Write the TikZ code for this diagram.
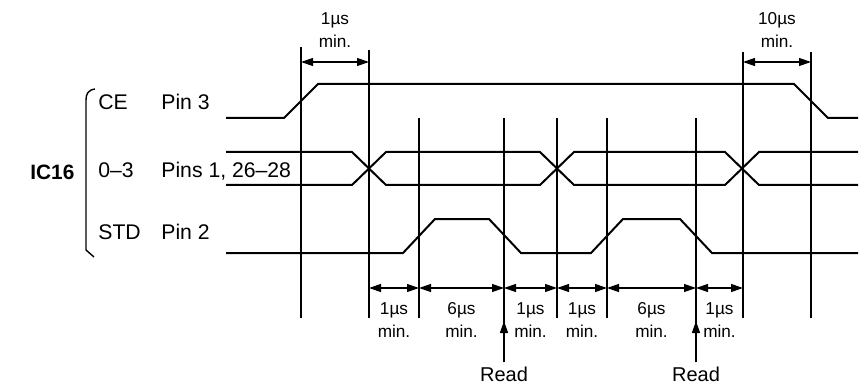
\documentclass[tikz,border=0pt]{standalone}
\usepackage{fontspec}
\setmainfont{Liberation Sans}
\usetikzlibrary{arrows.meta,positioning}

\begin{document}
\begin{tikzpicture}[x=0.5pt,y=-0.5pt,
  sig/.style={line width=1pt,line join=miter},
  guide/.style={line width=0.7pt},
  dim/.style={{Triangle[length=6pt,width=4pt]}-{Triangle[length=6pt,width=4pt]},line width=0.6pt},
  lbl/.style={font=\fontsize{10.6}{12}\selectfont,inner sep=0pt,anchor=base west},
  tm/.style={font=\fontsize{8.6}{11.5}\selectfont,align=center,inner sep=0pt},
  rd/.style={font=\fontsize{10}{12}\selectfont,inner sep=2pt}]
\useasboundingbox (0,0) rectangle (868,385);
% time marks
\foreach \n/\x in {a/301,b/369,c/419,d/504,e/557,f/607,g/696,h/743,i/811}
  \coordinate (\n) at (\x,0);
\foreach \n/\t in {a/47,b/50,c/118,e/118,f/118,h/52,i/52}
  \draw[guide] (\n |- 0,\t) -- (\n |- 0,318);
% labels
\node[lbl,font=\bfseries\fontsize{10.4}{12}\selectfont] (ic) at (30,179) {IC16};
\foreach \nm/\grp/\pin/\y in {ce/CE/Pin 3/110,dq/0--3/{Pins 1, 26--28}/177,std/STD/Pin 2/239}{
  \node[lbl] (\nm) at (98,\y) {\grp};
  \node[lbl] (\nm p) at (161,\y) {\pin};
}
\draw[line width=0.7pt] (95,89) .. controls (88,90) and (86,94) .. (86,100) -- (86,250) -- (94,257);
% signals
\draw[sig] (226,118) -- (284,118) -- (318,84) -- (794,84) -- (828,118) -- (858,118);
\draw[sig] (226,152) -- (352,152) -- (386,185) -- (540,185) -- (574,152) -- (725,152) -- (759,185) -- (858,185);
\draw[sig] (226,185) -- (352,185) -- (386,152) -- (540,152) -- (574,185) -- (725,185) -- (759,152) -- (858,152);
\draw[sig] (226,253) -- (403,253) -- (435,219) -- (489,219) -- (521,253) -- (591,253)
  -- (623,219) -- (680,219) -- (712,253) -- (858,253);
% timings
\draw[dim] (a |- 0,62) -- node[tm,midway,above=7pt] (t1) {1µs\\min.} (b |- 0,62);
\draw[dim] (h |- 0,62) -- node[tm,midway,above=7pt] (t2) {10µs\\min.} (i |- 0,62);
\foreach \p/\q/\v in {b/c/1,c/d/6,d/e/1,e/f/1,f/g/6,g/h/1}
  \draw[dim] (\p |- 0,288) -- node[tm,midway,below=7pt] {{\v}µs\\min.} (\q |- 0,288);
% read strobes
\node[rd] (rd1) at (504,374) {Read};
\node[rd] (rd2) at (696,374) {Read};
\foreach \r/\n in {rd1/d,rd2/g}{
  \draw[guide] (\n |- 0,118) -- (\r.north);
  \draw[guide,-{Triangle[length=6pt,width=4pt]}] (\r.north) -- (\n |- 0,321);
}
\end{tikzpicture}
\end{document}
